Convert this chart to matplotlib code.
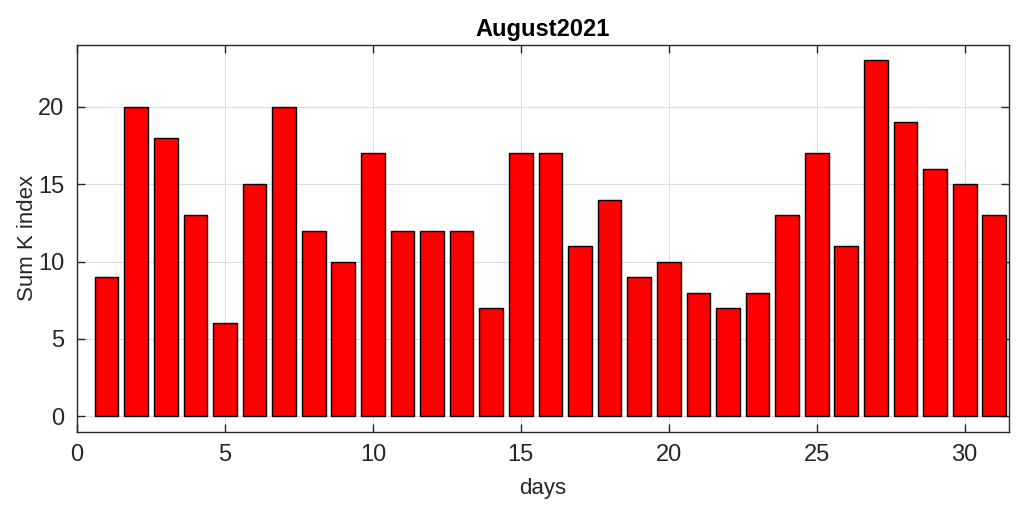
import matplotlib.pyplot as plt

days = list(range(1, 32))
sum_k = [9, 20, 18, 13, 6, 15, 20, 12, 10, 17, 12, 12, 12, 7, 17, 17,
         11, 14, 9, 10, 8, 7, 8, 13, 17, 11, 23, 19, 16, 15, 13]
x_ticks = [0, 5, 10, 15, 20, 25, 30]
y_ticks = [0, 5, 10, 15, 20]

plt.rcParams['font.family'] = ['Liberation Sans', 'DejaVu Sans']
txt = "#262626"

fig = plt.figure(figsize=(10.17, 5.13), dpi=100)
ax = fig.add_axes([0.0757, 0.158, 0.9165, 0.755])

ax.bar(days, sum_k, width=0.8, color="red", edgecolor="black", linewidth=1.0, zorder=3)

ax.set_xlim(0, 31.5)
ax.set_ylim(-1, 24)
ax.set_xticks(x_ticks)
ax.set_yticks(y_ticks)
ax.grid(True, color="#dcdcdc", linewidth=0.8, zorder=0)
ax.tick_params(direction="in", top=True, right=True, length=6, width=1,
               color=txt, labelsize=17, labelcolor=txt, pad=9)
for s in ax.spines.values():
    s.set_color(txt)
    s.set_linewidth(1.0)

ax.set_xlabel("days", fontsize=16, color=txt, labelpad=8)
ax.set_ylabel("Sum K index", fontsize=16, color=txt)
ax.yaxis.set_label_coords(-0.042, 0.5)
ax.set_title("August2021", fontsize=17, fontweight="bold", color="black", pad=6)

fig.savefig("out.png", dpi=100)
